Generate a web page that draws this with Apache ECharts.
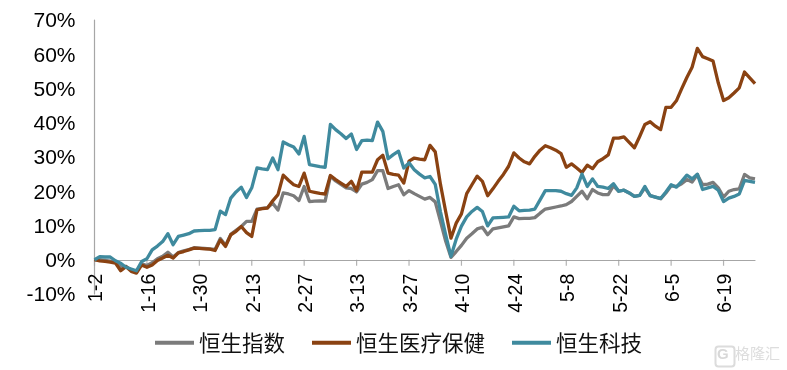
<!DOCTYPE html>
<html><head><meta charset="utf-8">
<style>html,body{margin:0;padding:0;background:#fff}#c{width:787px;height:370px}</style>
<script src="https://cdn.jsdelivr.net/npm/echarts@6/dist/echarts.min.js"></script></head>
<body><div id="c"></div>
<script>
const categories = [
"1-2","1-3","1-6","1-7","1-8","1-9","1-10","1-13","1-14","1-15","1-16","1-17","1-20","1-21","1-22","1-23","1-24","1-27","1-28","1-29","1-30","1-31",
"2-3","2-4","2-5","2-6","2-7","2-10","2-11","2-12","2-13","2-14","2-17","2-18","2-19","2-20","2-21","2-24","2-25","2-26","2-27","2-28",
"3-3","3-4","3-5","3-6","3-7","3-10","3-11","3-12","3-13","3-14","3-17","3-18","3-19","3-20","3-21","3-24","3-25","3-26","3-27","3-28","3-31",
"4-1","4-2","4-3","4-4","4-7","4-8","4-9","4-10","4-11","4-14","4-15","4-16","4-17","4-18","4-21","4-22","4-23","4-24","4-25","4-28","4-29","4-30",
"5-1","5-2","5-5","5-6","5-7","5-8","5-9","5-12","5-13","5-14","5-15","5-16","5-19","5-20","5-21","5-22","5-23","5-26","5-27","5-28","5-29","5-30",
"6-2","6-3","6-4","6-5","6-6","6-9","6-10","6-11","6-12","6-13","6-16","6-17","6-18","6-19","6-20","6-23","6-24","6-25","6-26","6-27"];
const hsi = [0,0,-0.2,-0.4,-0.8,-2.2,-1.9,-3,-3.5,-1.2,
-1.7,-0.9,0.3,1,2.2,0.8,2.1,2.6,3,3.5,
3.4,3.3,3.2,3,6.2,4.2,7.4,8.6,9.7,11.2,
11.2,14.8,15,15.2,16.5,14.5,19.5,19.2,18.7,17.3,
21.4,17,17.1,17.2,17.1,24.4,23,22,21,20.8,
19.8,22.1,22.6,23.4,26,26,20.8,21.4,21.9,19,
20.2,19.3,18.5,17.7,18.2,16.9,11.2,5.4,0.7,2.4,
4.2,6.3,7.6,9,9.5,7.3,9,9.3,9.6,9.9,
12.5,12,12.1,12.1,12.3,13.6,14.8,15.1,15.4,15.7,
16.1,17,18.5,20,17.8,20.5,19.5,19,19,21.6,
20,20.3,19.5,18.5,18.8,21,18.7,18.3,17.8,19.5,
21.6,21.4,22.2,23.4,22.7,24.9,21.9,22.1,22.6,21,
18.3,20,20.5,20.7,24.9,23.9,23.6];
const health = [0,-0.3,-0.5,-0.7,-1,-3.2,-2,-3.4,-3.9,-1.5,
-2.2,-1.5,-0.2,0.5,1.3,0.5,2,2.4,2.9,3.4,
3.3,3.2,3.1,2.7,5.8,3.9,7.3,8.3,9.7,7.9,
6.8,14.6,14.9,15.1,17.2,19,24.7,23.2,21.9,21.4,
25.3,20,19.7,19.4,19.2,24.6,23.4,22.4,21.4,22.9,
20.2,25.6,25.6,25.6,29.2,30.5,25.3,24.9,24.7,22.4,
28.8,29.7,29.4,29.2,33.4,31.5,22,14,6.3,10.7,
13.4,19.3,21.9,24.4,22.9,18.7,20.7,22.9,24.9,27.3,
31.2,29.7,28.6,28,30.2,32,33.3,32.7,32,31,
27,28,26.8,25.5,27.6,26.6,28.6,29.5,30.6,35.5,
35.5,35.9,34.3,32.7,36,39.5,40.3,39,38,44.5,
44.5,46.4,49.9,53.2,56.2,61.7,59.3,58.7,58,51.6,
46.5,47.3,48.7,50.2,54.8,53.1,51.4];
const tech = [0,0.9,0.8,0.8,-0.3,-1,-2.2,-2.7,-3.2,-0.5,
0.3,2.9,4,5.3,7.6,4.4,6.8,7.2,7.6,8.4,
8.5,8.6,8.6,8.8,14.2,13.2,18,19.8,21.2,18.2,
21,26.8,26.5,26.3,29.7,26.3,34.4,33.6,32.9,30.9,
36,27.8,27.5,27.2,27,39.5,38,36.8,35.4,36.7,
32.2,34.8,34.9,34.8,40.2,37.5,29.5,30.7,31.7,26.8,
28.3,26.3,25,23.9,24.3,22,14,7.3,1,6,
9.8,12.5,14.1,15.3,14.1,9.9,12.2,12.3,12.4,12.5,
15.6,14.3,14.4,14.5,14.8,17.5,20.2,20.2,20.2,20,
19.3,18.8,21,25,21.4,23.6,21.4,21.2,20.8,22.2,
20,20.3,19.5,18.5,18.8,21.4,18.7,18.3,17.9,19.8,
21.9,21.2,22.9,24.7,23.6,25,20.5,21,21.4,20.3,
17,18,18.5,19.2,23.2,22.9,22.6];
const tickDates = ["1-2","1-16","1-30","2-13","2-27","3-13","3-27","4-10","4-24","5-8","5-22","6-5","6-19"];
const names = ["恒生指数","恒生医疗保健","恒生科技"];
const colors = ["#7b7b7b","#8a4212","#3f8a9e"];
const font = '"Liberation Sans",Arial,sans-serif';
const chart = echarts.init(document.getElementById('c'),null,{renderer:'canvas'});
function line(i,d){return {name:names[i],type:'line',data:d,symbol:'none',smooth:false,z:3,
  lineStyle:{color:colors[i],width:3.3,join:'round'},itemStyle:{color:colors[i]}};}
chart.setOption({
  animation:false,
  backgroundColor:'#fff',
  grid:{left:94.5,right:32,top:20,bottom:76,containLabel:false},
  legend:{left:150,top:327,itemWidth:39,itemHeight:14,itemGap:27,icon:'path://M0 0H39V4H0Z',
    data:names,textStyle:{fontFamily:'"Noto Sans CJK SC"',fontSize:21.5,color:'#111'}},
  xAxis:{type:'category',data:categories,boundaryGap:false,offset:-34.25,
    axisLine:{onZero:false,lineStyle:{color:'#a6a6a6',width:1.2}},
    axisTick:{show:false},
    axisLabel:{interval:9,rotate:90,margin:14,verticalAlign:'top',lineHeight:5,fontFamily:font,fontSize:19.5,color:'#000',hideOverlap:false}},
  yAxis:{type:'value',min:-10,max:70,interval:10,
    axisLine:{show:true,lineStyle:{color:'#a6a6a6',width:1.2}},axisTick:{show:false},splitLine:{show:false},
    axisLabel:{formatter:'{value}%',margin:19,verticalAlign:'top',lineHeight:3,fontFamily:font,fontSize:21,color:'#000'}},
  series:[
    {type:'scatter',name:'ticks',data:tickDates.map(d=>[d,0]),symbol:'rect',symbolSize:[1.2,6],symbolOffset:[0,3],
     itemStyle:{color:'#a0a0a0'},silent:true,z:1,clip:false},
    line(0,hsi),line(1,health),line(2,tech)],
  graphic:[
    {type:'rect',left:713,top:344,shape:{width:19,height:20,r:3},style:{fill:'none',stroke:'#dcdcdc',lineWidth:2},silent:true},
    {type:'text',left:717,top:347,style:{text:'G',font:'bold 15px "Liberation Sans"',fill:'#d8d8d8'},silent:true},
    {type:'text',left:735,top:346,style:{text:'格隆汇',font:'15px "Noto Sans CJK SC"',fill:'#dddddd'},silent:true}
  ]
});
</script></body></html>
